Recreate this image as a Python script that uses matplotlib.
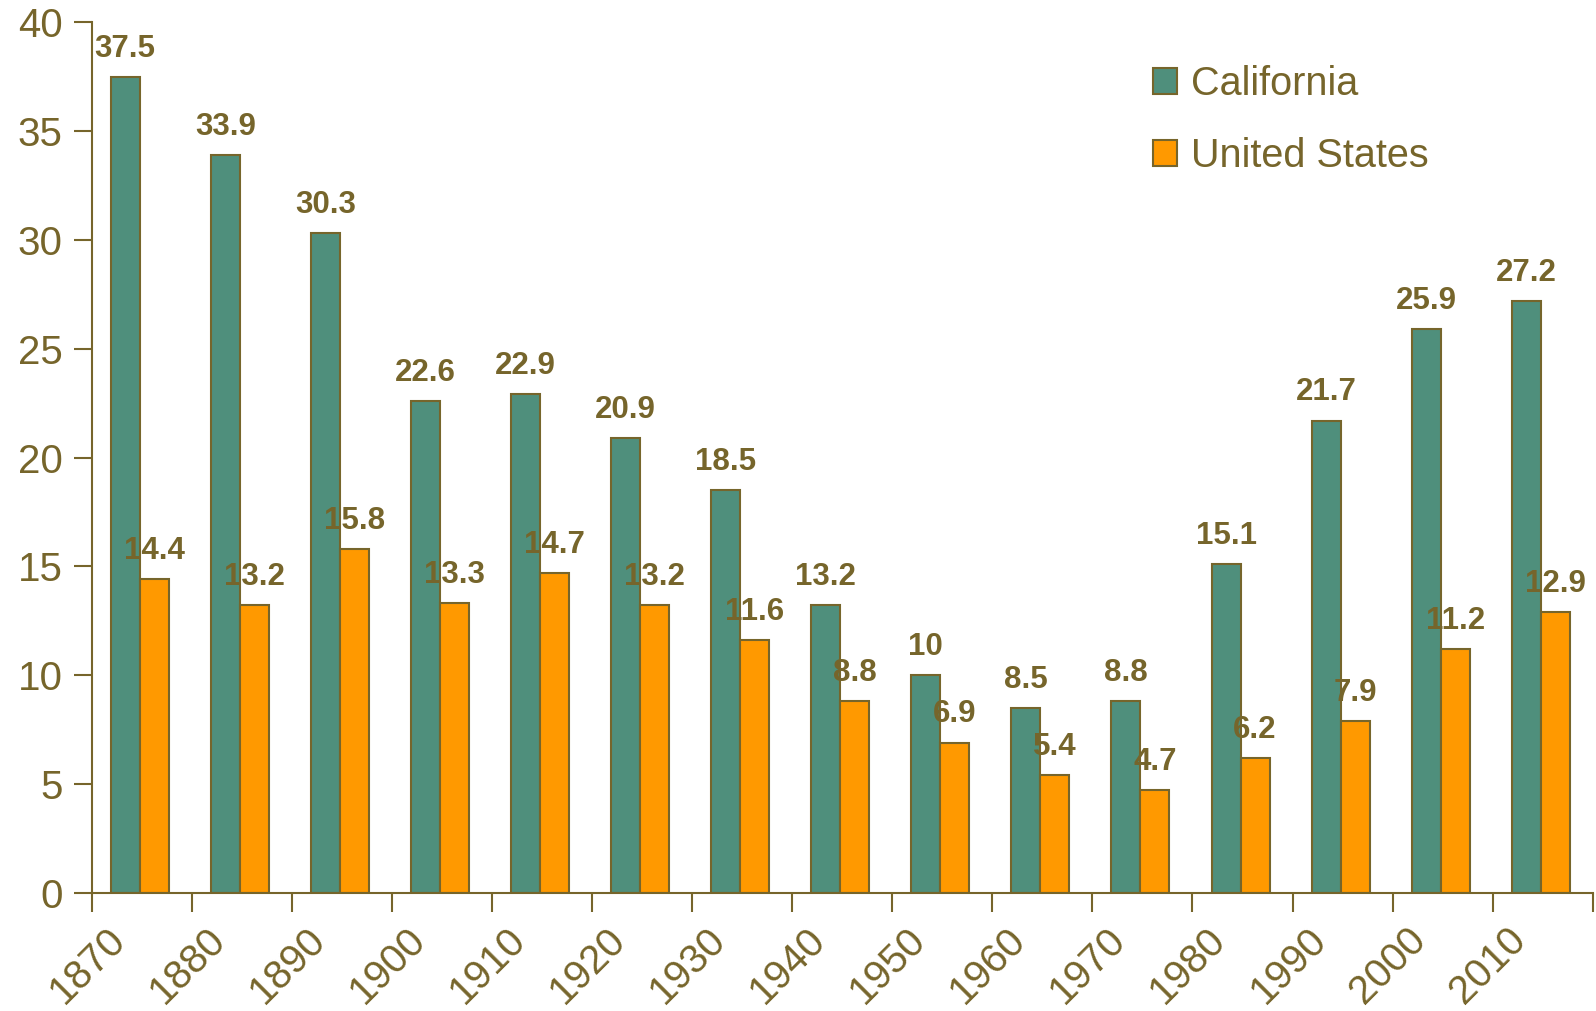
import matplotlib.pyplot as plt
import matplotlib.transforms as mtransforms
import numpy as np

years = ["1870", "1880", "1890", "1900", "1910", "1920", "1930", "1940",
         "1950", "1960", "1970", "1980", "1990", "2000", "2010"]
california = [37.5, 33.9, 30.3, 22.6, 22.9, 20.9, 18.5, 13.2, 10, 8.5, 8.8, 15.1, 21.7, 25.9, 27.2]
united_states = [14.4, 13.2, 15.8, 13.3, 14.7, 13.2, 11.6, 8.8, 6.9, 5.4, 4.7, 6.2, 7.9, 11.2, 12.9]

olive = '#76652b'
green = '#4f8f7c'
orange = '#ff9900'

plt.rcParams['font.family'] = ['Liberation Sans', 'DejaVu Sans']

fig = plt.figure(figsize=(15.96, 10.11), dpi=100)
ax = fig.add_axes([0.0574, 0.1171, 0.9406, 0.8607])

x = np.arange(len(years))
w = 0.29
off = -0.02
ax.bar(x + off - w / 2, california, w, color=green, edgecolor=olive, linewidth=1.5, label='California')
ax.bar(x + off + w / 2, united_states, w, color=orange, edgecolor=olive, linewidth=1.5, label='United States')

# value labels
for xi, v in zip(x, california):
    ax.text(xi + off - w / 2, v + 0.6, f"{v:g}", ha='center', va='bottom',
            fontsize=22.5, fontweight='bold', color=olive)
for xi, v in zip(x, united_states):
    ax.text(xi + off + w / 2, v + 0.6, f"{v:g}", ha='center', va='bottom',
            fontsize=22.5, fontweight='bold', color=olive)

ax.set_xlim(-0.5, len(years) - 0.5)
ax.set_ylim(0, 40)
ax.set_yticks(np.arange(0, 41, 5))

# ticks at category boundaries, year labels drawn as rotated text under centers
ax.set_xticks(np.arange(-0.5, len(years), 1.0))
ax.set_xticklabels([])
ax.tick_params(axis='x', which='major', length=14, width=1.5, color=olive)
ax.tick_params(axis='y', length=13, width=1.5, color=olive, labelsize=29,
               labelcolor=olive, pad=8)

trans = mtransforms.blended_transform_factory(ax.transData, ax.transAxes) + \
    mtransforms.ScaledTranslation(-0.225, -0.41, fig.dpi_scale_trans)
for xi, yr in zip(x, years):
    ax.text(xi, 0, yr, transform=trans, rotation=45, rotation_mode='anchor',
            ha='right', va='center', fontsize=29, color=olive, clip_on=False)

for s in ['top', 'right']:
    ax.spines[s].set_visible(False)
for s in ['left', 'bottom']:
    ax.spines[s].set_color(olive)
    ax.spines[s].set_linewidth(1.5)

leg = ax.legend(loc='upper left', bbox_to_anchor=(0.707, 0.951), frameon=False,
                fontsize=28.5, handlelength=0.62, handleheight=0.62,
                handletextpad=0.33, labelspacing=0.85, borderpad=0,
                borderaxespad=0)
for t in leg.get_texts():
    t.set_color(olive)

fig.savefig('out.png', dpi=100)
